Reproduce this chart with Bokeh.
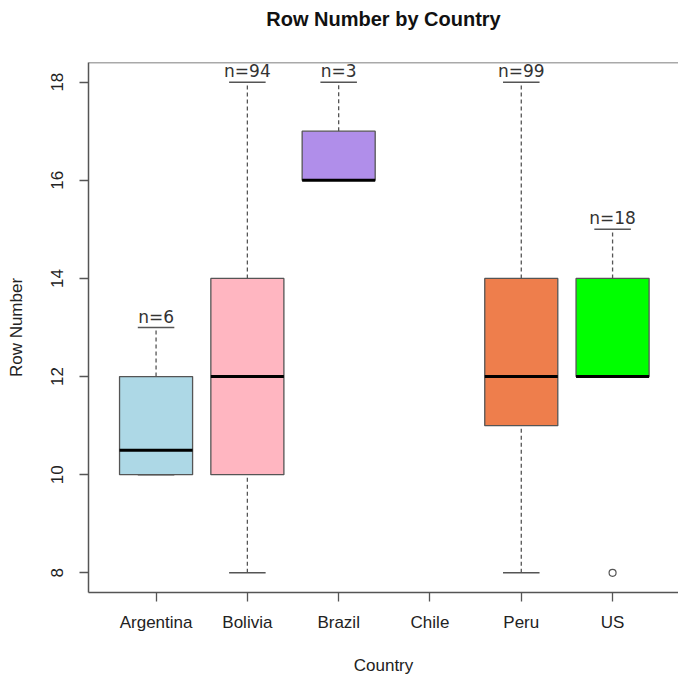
from bokeh.plotting import figure
from bokeh.models import Range1d, FixedTicker, Span, ColumnDataSource
from bokeh.embed import file_html
from bokeh.resources import INLINE
from bokeh.core.properties import value

# ---- data ----
countries = ["Argentina", "Bolivia", "Brazil", "Chile", "Peru", "US"]
lower_whisker = [10, 8, 16, None, 8, 12]
q1 = [10, 10, 16, None, 11, 12]
median = [10.5, 12, 16, None, 12, 12]
q3 = [12, 14, 17, None, 14, 14]
upper_whisker = [13, 18, 18, None, 18, 15]
counts = [6, 94, 3, 0, 99, 18]
box_colors = ["#ADD8E6", "#FFB6C1", "#B08EEA", "#FFFFFF", "#EE7E4C", "#00FF00"]
outlier_country = ["US"]
outlier_value = [8]
y_ticks = [8, 10, 12, 14, 16, 18]
title_text = "Row Number by Country"

# ---- build sources ----
pos = {c: i + 1 for i, c in enumerate(countries)}
BOX_HALF = 0.4
CAP_HALF = 0.2

rows = [i for i in range(len(countries)) if q1[i] is not None]
src = ColumnDataSource(dict(
    x=[pos[countries[i]] for i in rows],
    left=[pos[countries[i]] - BOX_HALF for i in rows],
    right=[pos[countries[i]] + BOX_HALF for i in rows],
    cl=[pos[countries[i]] - CAP_HALF for i in rows],
    cr=[pos[countries[i]] + CAP_HALF for i in rows],
    lo=[lower_whisker[i] for i in rows],
    q1=[q1[i] for i in rows],
    med=[median[i] for i in rows],
    q3=[q3[i] for i in rows],
    hi=[upper_whisker[i] for i in rows],
    color=[box_colors[i] for i in rows],
    label=["n=%d" % counts[i] for i in rows],
))
out_src = ColumnDataSource(dict(x=[pos[c] for c in outlier_country], y=outlier_value))

W, H = 678, 680
p = figure(width=W, height=H, output_backend="svg", toolbar_location=None,
           x_range=Range1d(0.26, 6.722), y_range=Range1d(7.6, 18.4),
           min_border_left=88, min_border_right=0, min_border_top=62, min_border_bottom=88,
           title=title_text + "\n")
p.outline_line_color = None
p.grid.visible = False
p.background_fill_color = "white"
p.border_fill_color = "white"

p.title.align = "center"
p.title.vertical_align = "top"
p.title.text_font = "Liberation Sans"
p.title.text_font_size = "20px"
p.title.text_font_style = "bold"
p.title.text_color = "#111111"
p.title.text_line_height = 1.4
p.title.standoff = 0

# whiskers (dashed)
p.segment(x0="x", y0="q3", x1="x", y1="hi", source=src, line_color="#555555",
          line_width=1.3, line_dash="4 3")
p.segment(x0="x", y0="lo", x1="x", y1="q1", source=src, line_color="#555555",
          line_width=1.3, line_dash="4 3")
# caps
p.segment(x0="cl", y0="hi", x1="cr", y1="hi", source=src, line_color="#555555", line_width=1.5)
p.segment(x0="cl", y0="lo", x1="cr", y1="lo", source=src, line_color="#555555", line_width=1.5)
# boxes
p.quad(left="left", right="right", bottom="q1", top="q3", source=src,
       fill_color="color", line_color="#555555", line_width=1.3)
# medians
p.segment(x0="left", y0="med", x1="right", y1="med", source=src, line_color="#000000", line_width=3)
# outliers
p.scatter(x="x", y="y", source=out_src, marker="circle", size=7, fill_color="white",
          line_color="#555555", line_width=1.2)
# count labels
p.text(x="x", y="hi", text="label", source=src, text_align="center",
       text_baseline="bottom", y_offset=-1, text_font=value("DejaVu Sans"),
       text_font_size="17px", text_color="#333333")

# top frame line
p.add_layout(Span(location=18.4, dimension="width", line_color="#555555", line_width=1.5))

# axes
for ax in (p.xaxis[0], p.yaxis[0]):
    ax.axis_line_color = "#555555"
    ax.axis_line_width = 1.5
    ax.major_tick_line_color = "#555555"
    ax.major_tick_line_width = 1.3
    ax.major_tick_in = 0
    ax.major_tick_out = 9
    ax.minor_tick_line_color = None
    ax.major_label_text_font = "Liberation Sans"
    ax.major_label_text_font_size = "17px"
    ax.major_label_text_color = "#222222"
    ax.axis_label_text_font = "Liberation Sans"
    ax.axis_label_text_font_size = "17px"
    ax.axis_label_text_font_style = "normal"
    ax.axis_label_text_color = "#222222"

p.xaxis.ticker = FixedTicker(ticks=[pos[c] for c in countries])
p.xaxis.major_label_overrides = {pos[c]: c for c in countries}
p.xaxis.axis_label = "Country"
p.xaxis.major_label_standoff = 11
p.xaxis.axis_label_standoff = 21

p.yaxis.ticker = FixedTicker(ticks=y_ticks)
p.yaxis.major_label_orientation = "vertical"
p.yaxis.axis_label = "Row Number"
p.yaxis.major_label_standoff = 16
p.yaxis.axis_label_standoff = 23

open("out.html", "w").write(file_html(p, INLINE))
